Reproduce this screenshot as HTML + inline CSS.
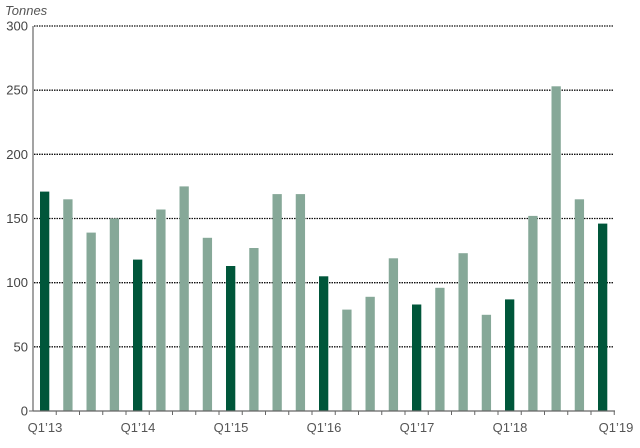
<!DOCTYPE html><html><head><style>body{margin:0;background:#fff}</style></head><body>
<svg width="640" height="443" xmlns="http://www.w3.org/2000/svg" font-family="Liberation Sans, sans-serif" font-size="13" fill="#444">
<text x="5" y="15" font-style="italic" fill="#555">Tonnes</text>
<g text-anchor="end">
<text x="28" y="415.5">0</text><text x="28" y="351.3">50</text><text x="28" y="287.2">100</text><text x="28" y="223">150</text><text x="28" y="158.8">200</text><text x="28" y="94.7">250</text><text x="28" y="30.5">300</text>
</g>
<g stroke="#111" stroke-width="1.3" stroke-dasharray="1.5,1">
<line x1="34" x2="614" y1="346.8" y2="346.8"/><line x1="34" x2="614" y1="282.7" y2="282.7"/><line x1="34" x2="614" y1="218.5" y2="218.5"/><line x1="34" x2="614" y1="154.3" y2="154.3"/><line x1="34" x2="614" y1="90.2" y2="90.2"/><line x1="34" x2="614" y1="26" y2="26"/>
</g>
<g fill="#86a898">
<rect x="63.25" y="199.3" width="9.3" height="211.7"/>
<rect x="86.5" y="232.6" width="9.3" height="178.4"/>
<rect x="109.75" y="218.5" width="9.3" height="192.5"/>
<rect x="156.25" y="209.5" width="9.3" height="201.5"/>
<rect x="179.5" y="186.4" width="9.3" height="224.6"/>
<rect x="202.75" y="237.8" width="9.3" height="173.2"/>
<rect x="249.25" y="248" width="9.3" height="163"/>
<rect x="272.5" y="194.1" width="9.3" height="216.9"/>
<rect x="295.75" y="194.1" width="9.3" height="216.9"/>
<rect x="342.25" y="309.6" width="9.3" height="101.4"/>
<rect x="365.5" y="296.8" width="9.3" height="114.2"/>
<rect x="388.75" y="258.3" width="9.3" height="152.7"/>
<rect x="435.25" y="287.8" width="9.3" height="123.2"/>
<rect x="458.5" y="253.2" width="9.3" height="157.8"/>
<rect x="481.75" y="314.8" width="9.3" height="96.2"/>
<rect x="528.25" y="215.9" width="9.3" height="195.1"/>
<rect x="551.5" y="86.3" width="9.3" height="324.7"/>
<rect x="574.75" y="199.3" width="9.3" height="211.7"/>
</g>
<g fill="#00563a">
<rect x="40" y="191.6" width="9.3" height="219.4"/>
<rect x="133" y="259.6" width="9.3" height="151.4"/>
<rect x="226" y="266" width="9.3" height="145"/>
<rect x="319" y="276.3" width="9.3" height="134.7"/>
<rect x="412" y="304.5" width="9.3" height="106.5"/>
<rect x="505" y="299.4" width="9.3" height="111.6"/>
<rect x="598" y="223.6" width="9.3" height="187.4"/>
</g>
<g text-anchor="middle" fill="#555">
<text x="45" y="432">Q1’13</text><text x="138" y="432">Q1’14</text><text x="231" y="432">Q1’15</text><text x="324" y="432">Q1’16</text><text x="417" y="432">Q1’17</text><text x="510" y="432">Q1’18</text><text x="616" y="432">Q1’19</text>
</g>
<path stroke="#666" stroke-width="1" fill="none" d="M56.25 411v4M79.5 411v4M102.75 411v4M126 411v4M149.25 411v4M172.5 411v4M195.75 411v4M219 411v4M242.25 411v4M265.5 411v4M288.75 411v4M312 411v4M335.25 411v4M358.5 411v4M381.75 411v4M405 411v4M428.25 411v4M451.5 411v4M474.75 411v4M498 411v4M521.25 411v4M544.5 411v4M567.75 411v4M591 411v4M614.25 411v4M29 411h4"/>
<line x1="33" x2="33" y1="26" y2="411" stroke="#666" stroke-width="1.2"/>
<line x1="33" x2="615" y1="411" y2="411" stroke="#666" stroke-width="1.2"/>
</svg></body></html>
